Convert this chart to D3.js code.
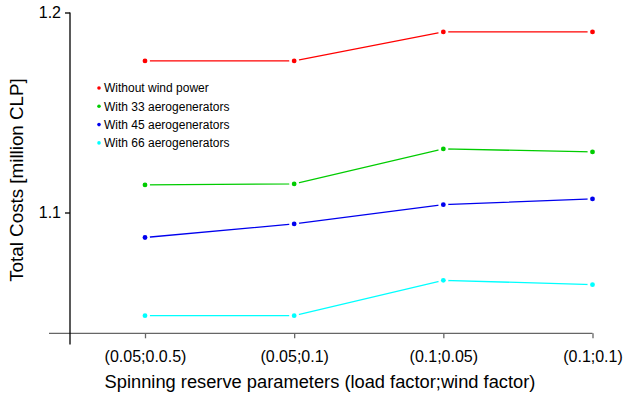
<!DOCTYPE html>
<html>
<head>
<meta charset="utf-8">
<script src="https://cdn.jsdelivr.net/npm/d3@7"></script>
<style>
  html, body { margin: 0; padding: 0; background: #fff; }
  svg { display: block; font-family: "Liberation Sans", Arial, sans-serif; }
</style>
</head>
<body>
<svg id="chart" width="623" height="401"></svg>
<script>
// Spinning reserve scenarios (load factor;wind factor)
const categories = ["(0.05;0.0.5)", "(0.05;0.1)", "(0.1;0.05)", "(0.1;0.1)"];

// Total costs in million CLP for each wind scenario
const seriesNames = ["Without wind power", "With 33 aerogenerators", "With 45 aerogenerators", "With 66 aerogenerators"];
const withoutWind = [1.1758, 1.1758, 1.1903, 1.1903];
const with33 = [1.1138, 1.1143, 1.1318, 1.1303];
const with45 = [1.0875, 1.0943, 1.1039, 1.1068];
const with66 = [1.0484, 1.0484, 1.0661, 1.0639];
const seriesColors = ["#ff0000", "#00cc00", "#0000ee", "#00ffff"];

const yTicks = [1.1, 1.2];
const yMin = 1.0396, yMax = 1.2;

const series = [withoutWind, with33, with45, with66].map((values, i) => ({
  name: seriesNames[i], color: seriesColors[i], values
}));

const svg = d3.select("#chart");

const x = d3.scalePoint().domain(categories).range([145, 592.5]).padding(0);
const y = d3.scaleLinear().domain([yMin, yMax]).range([333.3, 12.5]);

// X axis (grey baseline with downward ticks)
const xAxisG = svg.append("g")
  .attr("transform", `translate(0,${y(yMin)})`)
  .call(d3.axisBottom(x).tickSize(5).tickSizeOuter(0).tickPadding(12));
xAxisG.select(".domain").remove();
xAxisG.append("line")
  .attr("x1", 49).attr("x2", x(categories[categories.length - 1]))
  .attr("stroke", "#666").attr("stroke-width", 1.3);
xAxisG.selectAll(".tick line").attr("stroke", "#666").attr("stroke-width", 1.3);
xAxisG.selectAll(".tick text")
  .attr("font-size", 16).attr("fill", "#000")
  .attr("font-family", "Liberation Sans, Arial, sans-serif");

// Y axis
const yAxisG = svg.append("g")
  .attr("transform", "translate(70,0)")
  .call(d3.axisLeft(y).tickValues(yTicks).tickFormat(d3.format(".1f")).tickSize(5).tickSizeOuter(0).tickPadding(4));
yAxisG.select(".domain").remove();
yAxisG.append("line")
  .attr("x1", 0).attr("x2", 0)
  .attr("y1", y(yMax)).attr("y2", 344.5)
  .attr("stroke", "#000").attr("stroke-width", 1.3);
yAxisG.selectAll(".tick line").attr("stroke", "#000").attr("stroke-width", 1.3);
yAxisG.selectAll(".tick text")
  .attr("font-size", 16).attr("fill", "#000")
  .attr("font-family", "Liberation Sans, Arial, sans-serif");

// Axis titles
svg.append("text")
  .attr("x", 320).attr("y", 388)
  .attr("text-anchor", "middle")
  .attr("font-size", 18.3).attr("fill", "#000")
  .text("Spinning reserve parameters (load factor;wind factor)");

svg.append("text")
  .attr("transform", "translate(23,180) rotate(-90)")
  .attr("text-anchor", "middle")
  .attr("font-size", 18.8).attr("fill", "#000")
  .text("Total Costs [million CLP]");

// Series lines
const line = d3.line()
  .x((d, i) => x(categories[i]))
  .y(d => y(d));

const seriesG = svg.append("g");
seriesG.selectAll("path.series")
  .data(series)
  .join("path")
  .attr("class", "series")
  .attr("d", d => line(d.values))
  .attr("fill", "none")
  .attr("stroke", d => d.color)
  .attr("stroke-width", 1.3);

// Point markers with a white halo that breaks the line around each point
const pts = series.flatMap(s => s.values.map((v, i) => ({ v, i, color: s.color })));
seriesG.selectAll("circle.halo")
  .data(pts)
  .join("circle")
  .attr("class", "halo")
  .attr("cx", d => x(categories[d.i]))
  .attr("cy", d => y(d.v))
  .attr("r", 5)
  .attr("fill", "#fff");
seriesG.selectAll("circle.dot")
  .data(pts)
  .join("circle")
  .attr("class", "dot")
  .attr("cx", d => x(categories[d.i]))
  .attr("cy", d => y(d.v))
  .attr("r", 2.4)
  .attr("fill", d => d.color);

// Legend
const legend = svg.append("g").attr("transform", "translate(99,88)");
const items = legend.selectAll("g")
  .data(series)
  .join("g")
  .attr("transform", (d, i) => `translate(0,${i * 18.3})`);
items.append("circle")
  .attr("r", 1.8)
  .attr("fill", d => d.color);
items.append("text")
  .attr("x", 5)
  .attr("y", 4.3)
  .attr("font-size", 12)
  .attr("fill", "#000")
  .text(d => d.name);
</script>
</body>
</html>
